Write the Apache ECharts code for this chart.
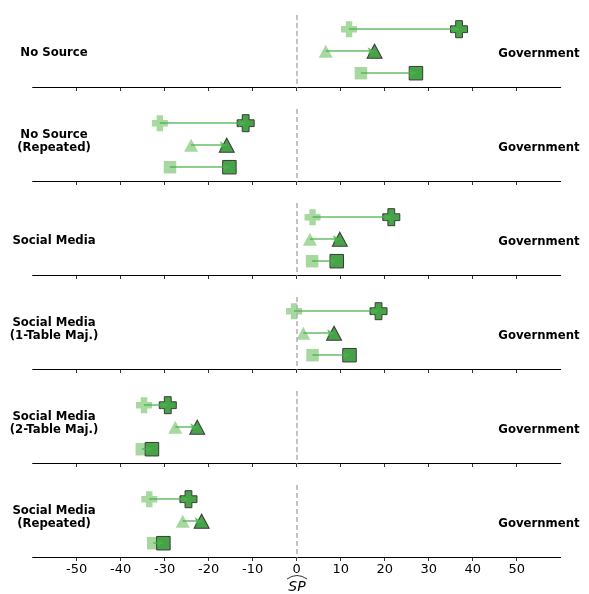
<!DOCTYPE html>
<html>
<head>
<meta charset="utf-8">
<script src="https://cdn.jsdelivr.net/npm/echarts@6/dist/echarts.min.js"></script>
<style>html,body{margin:0;padding:0;background:#fff}#c{width:589px;height:594px}</style>
</head>
<body>
<div id="c"></div>
<script>
const panelLabels = ["No Source", "No Source\n(Repeated)", "Social Media", "Social Media\n(1-Table Maj.)", "Social Media\n(2-Table Maj.)", "Social Media\n(Repeated)"];
const rightLabels = ["Government", "Government", "Government", "Government", "Government", "Government"];
const plusStart = [11.9, -31.1, 3.6, -0.6, -34.7, -33.5];
const plusEnd   = [36.9, -11.6, 21.5, 18.6, -29.3, -24.6];
const triStart  = [6.6, -24.0, 3.0, 1.5, -27.6, -25.9];
const triEnd    = [17.7, -15.9, 9.8, 8.5, -22.6, -21.6];
const sqStart   = [14.6, -28.8, 3.5, 3.6, -35.2, -32.6];
const sqEnd     = [27.1, -15.3, 9.1, 12.0, -32.9, -30.3];
const xTicks = [-50, -40, -30, -20, -10, 0, 10, 20, 30, 40, 50];
const xName = "SP";

const chart = echarts.init(document.getElementById('c'), null, {renderer: 'canvas'});
const PLUS = 'path://M0.3,0 H0.7 V0.3 H1 V0.7 H0.7 V1 H0.3 V0.7 H0 V0.3 H0.3 Z';
const LIGHT = '#a6d8a0';
const DARK = '#47a347';
const LINEC = '#4cb04c';

const grids = [], xAxes = [], yAxes = [], series = [], graphics = [];
const nP = panelLabels.length;
const H = 72.6, STEP = 94, B0 = 87.5;
for (let k = 0; k < nP; k++) {
  const bottom = B0 + STEP * k;
  const top = bottom - H;
  grids.push({left: 32.7, width: 528, top: top, height: H});
  const last = k === nP - 1;
  xAxes.push({
    type: 'value', gridIndex: k, min: -60, max: 60,
    axisLine: {show: true, onZero: false, lineStyle: {color: '#000', width: 1}},
    axisTick: {show: true, customValues: xTicks, length: 3.5, lineStyle: {color: '#000', width: 0.8}},
    axisLabel: {show: last, customValues: xTicks, color: '#000', fontSize: 13, fontFamily: 'DejaVu Sans', margin: 6},
    splitLine: {show: false}
  });
  yAxes.push({type: 'value', gridIndex: k, min: -0.65, max: 2.65, inverse: true, show: false});
  const starts = [plusStart[k], triStart[k], sqStart[k]];
  const ends = [plusEnd[k], triEnd[k], sqEnd[k]];
  const syms = [PLUS, 'triangle', 'rect'];
  const sizes = [[16, 16], [14, 13], [12.5, 12.5]];
  series.push({
    type: 'scatter', xAxisIndex: k, yAxisIndex: k, z: 2, silent: true,
    data: starts.map((v, i) => ({value: [v, i], symbol: syms[i], symbolSize: sizes[i]})),
    itemStyle: {color: LIGHT, opacity: 1},
    markLine: {
      silent: true, symbol: ['none', 'none'], label: {show: false},
      lineStyle: {color: '#b0b0b0', type: [5, 3], width: 1.5},
      data: [{xAxis: 0}]
    }
  });
  series.push({
    type: 'scatter', xAxisIndex: k, yAxisIndex: k, z: 3, silent: true,
    data: ends.map((v, i) => ({value: [v, i], symbol: syms[i], symbolSize: [sizes[i][0] + 1, sizes[i][1] + 1]})),
    itemStyle: {color: DARK, borderColor: '#3a3a3a', borderWidth: 1, opacity: 1}
  });
  series.push({
    type: 'scatter', xAxisIndex: k, yAxisIndex: k, z: 4, silent: true,
    data: [],
    markLine: {
      silent: true, symbol: ['none', 'arrow'], symbolSize: [6, 7], label: {show: false},
      emphasis: {disabled: true},
      data: starts.map((v, i) => [
        {coord: [v, i], lineStyle: {color: LINEC, type: 'solid', width: 1.5, opacity: 0.85}},
        {coord: [ends[i], i]}
      ])
    }
  });
  const mid = top + 0.65 * 22 + 22;
  const twoLine = panelLabels[k].indexOf('\n') >= 0;
  graphics.push({
    type: 'text', x: 54, y: twoLine ? mid - 4 : mid + 2,
    style: {text: panelLabels[k], fill: '#000', font: 'bold 11.7px "DejaVu Sans"', textAlign: 'center', textVerticalAlign: 'middle', lineHeight: 13.4}
  });
  graphics.push({
    type: 'text', x: 539, y: mid + 2.5,
    style: {text: rightLabels[k], fill: '#000', font: 'bold 11.7px "DejaVu Sans"', textAlign: 'center', textVerticalAlign: 'middle'}
  });
}
graphics.push({
  type: 'text', x: 297, y: 587,
  style: {text: xName, fill: '#000', font: 'italic 14px "DejaVu Sans"', textAlign: 'center', textVerticalAlign: 'middle'}
});
graphics.push({
  type: 'bezierCurve',
  shape: {x1: 287, y1: 579, x2: 307, y2: 579, cpx1: 297, cpy1: 572},
  style: {stroke: '#000', lineWidth: 0.8, fill: null}
});

chart.setOption({
  animation: false,
  backgroundColor: '#fff',
  grid: grids, xAxis: xAxes, yAxis: yAxes, series: series,
  graphic: graphics
});
</script>
</body>
</html>
